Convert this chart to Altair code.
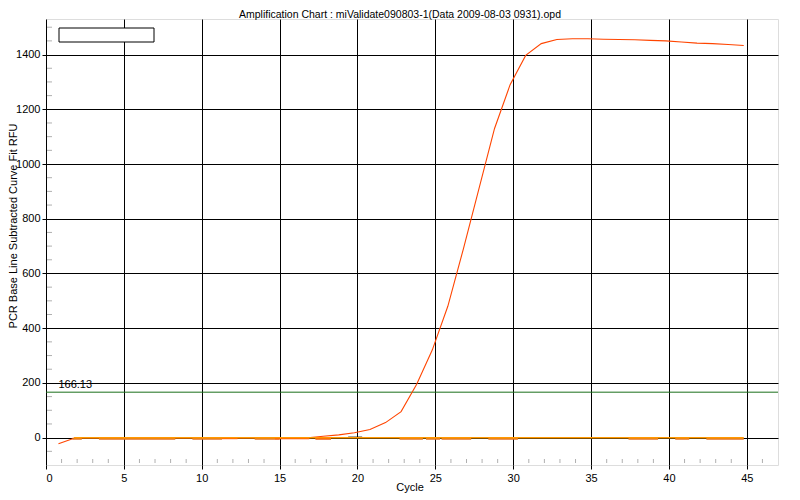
import altair as alt
import pandas as pd

# ---- data ----
cycles = [0.8 + i for i in range(45)]
rfu_sample = [-22, -2, 0, -1, -1, -1, -1, -1, -1, -1, -1, -1, -1, -1, -1, -1, -1,
              5, 10, 18, 30, 55, 95, 195, 320, 480, 690, 910, 1130, 1290, 1397,
              1440, 1455, 1458, 1458, 1456, 1455, 1454, 1452, 1450, 1446, 1442,
              1440, 1437, 1433]
baseline_start, baseline_end = 1.8, 44.8
dash_starts = [1.7, 3.4, 9.4, 13.4, 17.3, 22.7, 24.4, 25.4, 28.4, 37.4, 40.4, 42.4]
dash_ends = [2.3, 8.3, 11.3, 15.0, 18.3, 24.2, 25.3, 27.3, 30.3, 39.3, 41.3, 44.8]
red_dash_starts = [11.3, 14.7, 17.3]
red_dash_ends = [12.3, 16.9, 18.3]
black_dash_starts = [19.4]
black_dash_ends = [20.3]
threshold = 166.13
x_ticks = [0, 5, 10, 15, 20, 25, 30, 35, 40, 45]
y_ticks = [0, 200, 400, 600, 800, 1000, 1200, 1400]
x_minor = [c for c in range(1, 47) if c % 5 != 0]
y_minor = [v for v in range(-50, 1530, 50) if v % 200 != 0]
title_text = "Amplification Chart : miValidate090803-1(Data 2009-08-03 0931).opd"
x_title = "Cycle"
y_title = "PCR Base Line Subtracted Curve Fit RFU"

X_DOMAIN = [0, 47]
Y_DOMAIN = [-100, 1530]
W, H = 732, 446
FONT = "Liberation Sans"

xs = alt.Scale(domain=X_DOMAIN, nice=False, zero=False)
ys = alt.Scale(domain=Y_DOMAIN, nice=False, zero=False)

x_axis = alt.Axis(values=x_ticks, grid=True, gridColor="black", gridWidth=1,
                  tickColor="black", tickSize=4, domain=False, labelFont=FONT,
                  labelFontSize=11, labelColor="black", labelPadding=3, title=None)
y_axis = alt.Axis(values=y_ticks, grid=True, gridColor="black", gridWidth=1,
                  tickColor="black", tickSize=4, domain=False, labelFont=FONT,
                  labelFontSize=11, labelColor="black", labelPadding=2, format="d",
                  title=None)

df = pd.DataFrame({"cycle": cycles, "rfu": rfu_sample})

axes = alt.Chart(pd.DataFrame({"x": [0], "y": [0]})).mark_point(opacity=0).encode(
    x=alt.X("x:Q", scale=xs, axis=x_axis),
    y=alt.Y("y:Q", scale=ys, axis=y_axis),
)

xminor = alt.Chart(pd.DataFrame({"x": x_minor})).mark_rule(color="#b0b0b0").encode(
    x=alt.X("x:Q", scale=xs), y=alt.value(H - 6), y2=alt.value(H - 2))
yminor = alt.Chart(pd.DataFrame({"y": y_minor})).mark_rule(color="#b0b0b0").encode(
    y=alt.Y("y:Q", scale=ys), x=alt.value(1), x2=alt.value(6))

thr = alt.Chart(pd.DataFrame({"y": [threshold]})).mark_rule(color="#1a6e1a", strokeWidth=1).encode(
    y=alt.Y("y:Q", scale=ys))
thr_text = alt.Chart(pd.DataFrame({"x": [0.8], "y": [threshold], "t": [f"{threshold:.2f}"]})).mark_text(
    align="left", baseline="alphabetic", dy=-4, font=FONT, fontSize=11, color="black").encode(
    x=alt.X("x:Q", scale=xs), y=alt.Y("y:Q", scale=ys), text="t:N")

dark = alt.Chart(pd.DataFrame({"a": dash_starts, "b": dash_ends, "y": [-4] * len(dash_starts)})).mark_rule(
    color="#E07020", strokeWidth=2).encode(x=alt.X("a:Q", scale=xs), x2="b:Q", y=alt.Y("y:Q", scale=ys))
red = alt.Chart(pd.DataFrame({"a": red_dash_starts, "b": red_dash_ends, "y": [-2] * len(red_dash_starts)})).mark_rule(
    color="#FF4500", strokeWidth=2).encode(x=alt.X("a:Q", scale=xs), x2="b:Q", y=alt.Y("y:Q", scale=ys))
black = alt.Chart(pd.DataFrame({"a": black_dash_starts, "b": black_dash_ends, "y": [0]})).mark_rule(
    color="black", strokeWidth=2).encode(x=alt.X("a:Q", scale=xs), x2="b:Q", y=alt.Y("y:Q", scale=ys))

base = alt.Chart(pd.DataFrame({"a": [baseline_start], "b": [baseline_end], "y": [0]})).mark_rule(
    color="#FF9900", strokeWidth=1.5).encode(x=alt.X("a:Q", scale=xs), x2="b:Q", y=alt.Y("y:Q", scale=ys))

curve = alt.Chart(df).mark_line(color="#FF4500", strokeWidth=1.1).encode(
    x=alt.X("cycle:Q", scale=xs), y=alt.Y("rfu:Q", scale=ys))

legend_box = alt.Chart(pd.DataFrame({"x": [0]})).mark_rect(
    fill="white", stroke="black", strokeWidth=1).encode(
    x=alt.value(13), x2=alt.value(108), y=alt.value(9), y2=alt.value(23))

txt = pd.DataFrame({"t": [title_text]})
title_mark = alt.Chart(txt).mark_text(font=FONT, fontSize=10.5, color="black",
                                      align="center", baseline="alphabetic").encode(
    text="t:N", x=alt.value(354), y=alt.value(-1.5))
xt_mark = alt.Chart(pd.DataFrame({"t": [x_title]})).mark_text(
    font=FONT, fontSize=11, color="black", align="center", baseline="alphabetic").encode(
    text="t:N", x=alt.value(364), y=alt.value(H + 26))
yt_mark = alt.Chart(pd.DataFrame({"t": [y_title]})).mark_text(
    font=FONT, fontSize=11, color="black", align="center", baseline="alphabetic", angle=270).encode(
    text="t:N", x=alt.value(-29.5), y=alt.value(H / 2 - 16))

chart = alt.layer(axes, xminor, yminor, thr, thr_text, curve, dark, red, black, base, legend_box,
                  title_mark, xt_mark, yt_mark).properties(
    width=W, height=H,
    autosize=alt.AutoSizeParams(type="none"),
    padding={"left": 38, "top": 11, "right": 10, "bottom": 32},
).configure_view(stroke="black", strokeWidth=1.5).configure(background="white")

chart.save("out.html", embed_options={"renderer": "svg", "actions": False})
